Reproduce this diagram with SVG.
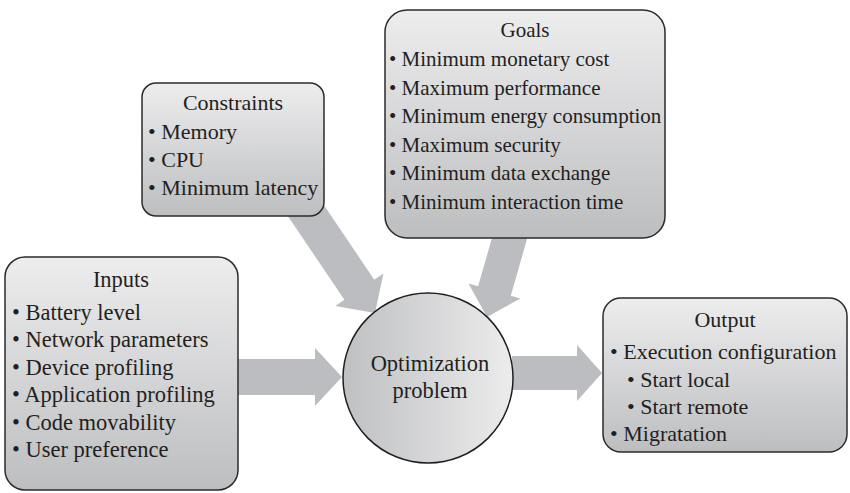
<svg xmlns="http://www.w3.org/2000/svg" width="850" height="493" viewBox="0 0 850 493">
  <defs>
    <linearGradient id="boxFill" x1="0" y1="0" x2="0" y2="1">
      <stop offset="0" stop-color="#ededee"/>
      <stop offset="1" stop-color="#bdbec0"/>
    </linearGradient>
    <linearGradient id="circleFill" x1="0" y1="0" x2="1" y2="0">
      <stop offset="0" stop-color="#bfc0c2"/>
      <stop offset="1" stop-color="#ececed"/>
    </linearGradient>
    <style>
      .box { fill: url(#boxFill); stroke: #2b2b2b; stroke-width: 1.5; }
      .hub { fill: url(#circleFill); stroke: #1e1e1e; stroke-width: 1.5; }
      .arrow { fill: #bcbdc0; stroke: none; }
      text { font-family: "Liberation Serif", "Times New Roman", serif; font-size: 22px; fill: #231f20; }
      .title { text-anchor: middle; }
      #inputs text { font-size: 22.5px; }
      #goals text { font-size: 21px; }
      #optimization text { font-size: 22.5px; }
    </style>
  </defs>

  <!-- Connectors: block arrows, tip at local origin pointing along +x -->
  <g id="connectors">
    <polygon class="arrow" transform="translate(342,377)" points="-110,-18 -27,-18 -27,-29 0,0 -27,29 -27,18 -110,18"/>
    <polygon class="arrow" transform="translate(602,373)" points="-90,-17 -25,-17 -25,-28 0,0 -25,28 -25,17 -90,17"/>
    <polygon class="arrow" transform="translate(375,313) rotate(56)" points="-135,-18 -28,-18 -28,-29 0,0 -28,29 -28,18 -135,18"/>
    <polygon class="arrow" transform="translate(487,317) rotate(106)" points="-95,-17 -27,-17 -27,-27 0,0 -27,27 -27,17 -95,17"/>
  </g>

  <g id="constraints">
    <rect class="box" x="142" y="83" width="182" height="133" rx="14"/>
    <text class="title" x="233" y="110">Constraints</text>
    <text x="148" y="139">• Memory</text>
    <text x="148" y="167">• CPU</text>
    <text x="148" y="195">• Minimum latency</text>
  </g>

  <g id="goals">
    <rect class="box" x="385" y="10" width="280" height="228" rx="22"/>
    <text class="title" x="525" y="37">Goals</text>
    <text x="389" y="66">• Minimum monetary cost</text>
    <text x="389" y="94.5">• Maximum performance</text>
    <text x="389" y="123">• Minimum energy consumption</text>
    <text x="389" y="151.5">• Maximum security</text>
    <text x="389" y="180">• Minimum data exchange</text>
    <text x="389" y="208.5">• Minimum interaction time</text>
  </g>

  <g id="inputs">
    <rect class="box" x="5" y="257" width="233" height="233" rx="20"/>
    <text class="title" x="121" y="287">Inputs</text>
    <text x="12" y="320">• Battery level</text>
    <text x="12" y="347">• Network parameters</text>
    <text x="12" y="375">• Device profiling</text>
    <text x="12" y="402">• Application profiling</text>
    <text x="12" y="430">• Code movability</text>
    <text x="12" y="457">• User preference</text>
  </g>

  <g id="optimization">
    <circle class="hub" cx="428" cy="378" r="85"/>
    <text class="title" x="430" y="371">Optimization</text>
    <text class="title" x="430" y="398">problem</text>
  </g>

  <g id="output">
    <rect class="box" x="603" y="298" width="244" height="154" rx="18"/>
    <text class="title" x="725" y="327">Output</text>
    <text x="610" y="359">• Execution configuration</text>
    <text x="627" y="387">• Start local</text>
    <text x="627" y="414">• Start remote</text>
    <text x="610" y="441">• Migratation</text>
  </g>
</svg>
